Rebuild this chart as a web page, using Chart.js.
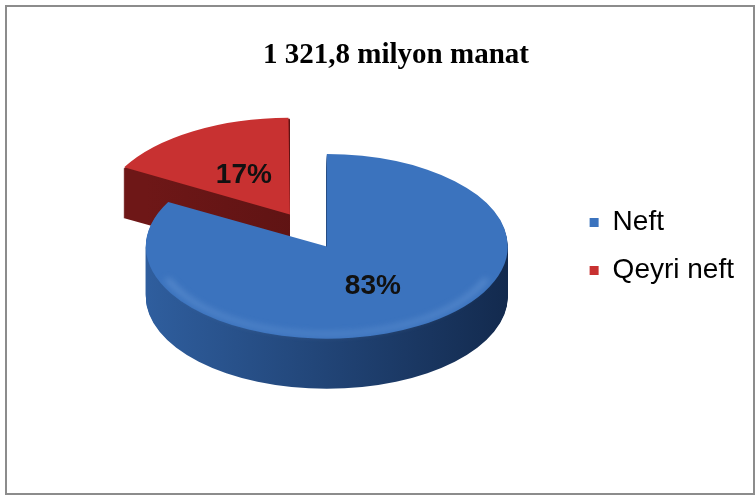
<!DOCTYPE html>
<html>
<head>
<meta charset="utf-8">
<script src="https://cdn.jsdelivr.net/npm/chart.js@4"></script>
<style>
  body { margin: 0; background: #fff; }
  #wrap { width: 756px; height: 496px; }
</style>
</head>
<body>
<div id="wrap"><canvas id="myChart"></canvas></div>
<script>
var labels = ['Neft', 'Qeyri neft'];
var shares = [83, 17];
var topColors = ['#3b73be', '#c83131'];
var sideColors = [['#2f5e9e', '#132a4e'], ['#6e1717', '#4a0e0e']];
var explode = [0, 290]; // chart.js moves an arc by offset / 4

var tilt = 0.51;  // vertical squash of the pie
var depth = 50;   // thickness of the side, px

function squash(ctx, cx, cy, dy) {
    ctx.translate(cx, cy + dy);
    ctx.scale(1, tilt);
    ctx.translate(-cx, -cy);
}

// same outline that ArcElement.draw uses for a pie slice
function slicePath(ctx, arc) {
    var off = (arc.options.offset || 0) / 4;
    var half = (arc.startAngle + arc.endAngle) / 2;
    var fix = 1 - Math.sin(Math.min(Math.PI, arc.circumference));
    var x = arc.x + Math.cos(half) * off;
    var y = arc.y + Math.sin(half) * off;
    ctx.beginPath();
    ctx.moveTo(x, y);
    ctx.arc(x, y, arc.outerRadius + off * fix, arc.startAngle, arc.endAngle);
    ctx.closePath();
}

var pie3d = {
    id: 'pie3d',
    afterLayout: function (chart) {
        // title sits a bit left of the full-width centre
        chart.titleBlock.left -= 36;
    },
    beforeDraw: function (chart) {
        var ctx = chart.ctx;
        ctx.save();
        ctx.strokeStyle = '#8c8c8c';
        ctx.lineWidth = 2;
        ctx.strokeRect(6, 6, 748, 488);
        ctx.restore();
    },
    beforeDatasetsDraw: function (chart) {
        var ctx = chart.ctx;
        var arcs = chart.getDatasetMeta(0).data;
        var cx = arcs[0].x, cy = arcs[0].y, r = arcs[0].outerRadius;
        // back slice first so the front one covers it
        [1, 0].forEach(function (i) {
            var g = ctx.createLinearGradient(cx - r, 0, cx + r, 0);
            g.addColorStop(0, sideColors[i][0]);
            g.addColorStop(1, sideColors[i][1]);
            for (var d = depth; d > 0; d--) {
                ctx.save();
                squash(ctx, cx, cy, d);
                slicePath(ctx, arcs[i]);
                ctx.fillStyle = g;
                ctx.fill();
                ctx.restore();
            }
        });
        ctx.save();
        squash(ctx, cx, cy, 0);
    },
    afterDatasetsDraw: function (chart) {
        var ctx = chart.ctx;
        var arcs = chart.getDatasetMeta(0).data;
        var a = arcs[0];
        // soft bevel light along the front rim of the top face
        ctx.save();
        ctx.filter = 'blur(3px)';
        ctx.beginPath();
        ctx.arc(a.x, a.y, a.outerRadius - 9, 0.12 * Math.PI, 0.88 * Math.PI);
        ctx.strokeStyle = 'rgba(150, 190, 240, 0.3)';
        ctx.lineWidth = 7;
        ctx.stroke();
        ctx.restore();
        ctx.restore();

        var total = shares.reduce(function (s, v) { return s + v; }, 0);
        ctx.save();
        ctx.font = 'bold 28px "Liberation Sans", Arial, sans-serif';
        ctx.fillStyle = '#111';
        ctx.textAlign = 'center';
        ctx.textBaseline = 'middle';
        arcs.forEach(function (arc, i) {
            var half = (arc.startAngle + arc.endAngle) / 2;
            var rr = (arc.options.offset || 0) / 4 + arc.outerRadius * 0.5;
            var x = arc.x + Math.cos(half) * rr;
            var y = arc.y + Math.sin(half) * rr * tilt;
            ctx.fillText(Math.round(shares[i] / total * 100) + '%', x, y);
        });
        ctx.restore();
    }
};

new Chart(document.getElementById('myChart'), {
    type: 'pie',
    data: {
        labels: labels,
        datasets: [{
            data: shares,
            backgroundColor: topColors,
            borderWidth: 0,
            offset: explode,
            hoverOffset: 0,
            radius: 181,
            clip: false
        }]
    },
    options: {
        responsive: true,
        maintainAspectRatio: false,
        animation: false,
        layout: { padding: { left: 84, right: 12, top: 0, bottom: 86 } },
        plugins: {
            title: {
                display: true,
                text: '1 321,8 milyon manat',
                color: '#000',
                font: { family: '"Liberation Serif", "Times New Roman", serif', size: 29, weight: 'bold' },
                padding: { top: 38, bottom: 10 }
            },
            legend: {
                position: 'right',
                fullSize: false,
                labels: {
                    boxWidth: 9,
                    boxHeight: 9,
                    padding: 20,
                    color: '#000',
                    font: { family: '"Liberation Sans", Arial, sans-serif', size: 28 }
                }
            },
            tooltip: { enabled: false }
        }
    },
    plugins: [pie3d]
});
</script>
</body>
</html>
